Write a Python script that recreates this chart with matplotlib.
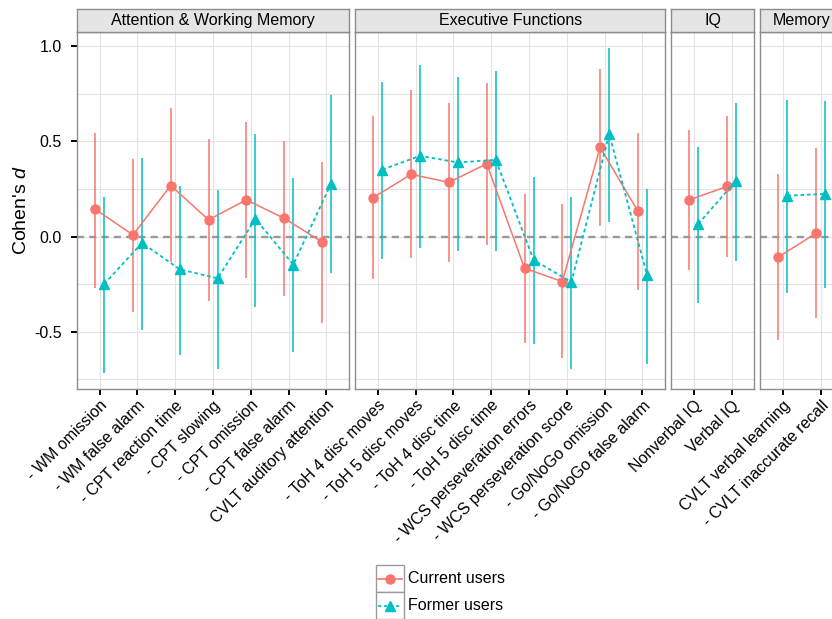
import pandas as pd
import matplotlib
matplotlib.use("Agg")
import matplotlib.pyplot as plt
from matplotlib.patches import Rectangle
from matplotlib.lines import Line2D

plt.rcParams['font.family'] = ['Liberation Sans', 'DejaVu Sans']
plt.rcParams['mathtext.fontset'] = 'custom'
plt.rcParams['mathtext.it'] = 'Liberation Sans:italic'
plt.rcParams['mathtext.rm'] = 'Liberation Sans'

# data
domain_order = ["Attention & Working Memory", "Executive Functions", "IQ", "Memory"]
domain = (["Attention & Working Memory"] * 7 + ["Executive Functions"] * 8
          + ["IQ"] * 2 + ["Memory"] * 2)
measures = ["- WM omission", "- WM false alarm", "- CPT reaction time", "- CPT slowing",
            "- CPT omission", "- CPT false alarm", "CVLT auditory attention",
            "- ToH 4 disc moves", "- ToH 5 disc moves", "- ToH 4 disc time", "- ToH 5 disc time",
            "- WCS perseveration errors", "- WCS perseveration score", "- Go/NoGo omission",
            "- Go/NoGo false alarm",
            "Nonverbal IQ", "Verbal IQ",
            "CVLT verbal learning", "- CVLT inaccurate recall"]
current_d = [0.144, 0.009, 0.268, 0.088, 0.193, 0.096, -0.028,
             0.205, 0.327, 0.285, 0.382, -0.166, -0.236, 0.469, 0.133,
             0.193, 0.263,
             -0.107, 0.018]
current_lo = [-0.268, -0.396, -0.135, -0.338, -0.217, -0.312, -0.454,
              -0.222, -0.112, -0.133, -0.046, -0.559, -0.637, 0.056, -0.280,
              -0.175, -0.109,
              -0.545, -0.427]
current_hi = [0.546, 0.405, 0.674, 0.511, 0.601, 0.504, 0.391,
              0.632, 0.769, 0.699, 0.806, 0.222, 0.170, 0.879, 0.543,
              0.559, 0.632,
              0.329, 0.464]
former_d = [-0.249, -0.033, -0.172, -0.219, 0.093, -0.147, 0.277,
            0.352, 0.424, 0.389, 0.403, -0.123, -0.238, 0.538, -0.200,
            0.067, 0.294,
            0.215, 0.224]
former_lo = [-0.715, -0.490, -0.622, -0.695, -0.368, -0.604, -0.191,
             -0.117, -0.061, -0.075, -0.075, -0.564, -0.695, 0.075, -0.669,
             -0.349, -0.128,
             -0.298, -0.268]
former_hi = [0.210, 0.412, 0.268, 0.243, 0.541, 0.305, 0.743,
             0.813, 0.900, 0.837, 0.869, 0.312, 0.207, 0.989, 0.252,
             0.471, 0.701,
             0.718, 0.711]

df = pd.DataFrame({"domain": domain, "measure": measures,
                   "cur": current_d, "cur_lo": current_lo, "cur_hi": current_hi,
                   "for": former_d, "for_lo": former_lo, "for_hi": former_hi})

RED = "#F8766D"
CYAN = "#00BFC4"
W, H = 832, 619


def fx(px):
    return px / W


def fy(py):
    return 1 - py / H


fig = plt.figure(figsize=(W / 100, H / 100), dpi=100)

unit = 37.8
left = 77
gap = 6
top, bottom = 32, 389
strip_top = 9
dodge = 0.12

for i, dom in enumerate(domain_order):
    sub = df[df["domain"] == dom].reset_index(drop=True)
    n = len(sub)
    width = (n + 0.2) * unit
    ax = fig.add_axes([fx(left), fy(bottom), width / W, (bottom - top) / H])
    x = list(range(1, n + 1))

    ax.axhline(0, color="#999999", lw=1.7, ls=(0, (3, 2.2)), zorder=2)
    ax.vlines([v - dodge for v in x], sub["cur_lo"], sub["cur_hi"], color=RED, lw=1.1, zorder=3)
    ax.vlines([v + dodge for v in x], sub["for_lo"], sub["for_hi"], color=CYAN, lw=1.1, zorder=3)
    ax.plot([v - dodge for v in x], sub["cur"], color=RED, lw=1.1, marker="o", ms=6.5,
            zorder=4)
    ax.plot([v + dodge for v in x], sub["for"], color=CYAN, lw=1.3, ls=(0, (2, 1.6)),
            marker="^", ms=6.5, zorder=4)

    ax.set_xlim(0.4, n + 0.6)
    ax.set_ylim(-0.8, 1.074)
    ax.set_xticks(x)
    ax.set_xticklabels(sub["measure"], rotation=45, ha="right", va="top",
                       rotation_mode="anchor", fontsize=11.5)
    ax.set_yticks([-0.5, 0.0, 0.5, 1.0])
    ax.set_yticks([-0.75, -0.25, 0.25, 0.75], minor=True)
    ax.grid(True, which="major", color="#E3E3E3", lw=0.8, zorder=0)
    ax.grid(True, which="minor", axis="y", color="#E3E3E3", lw=0.8, zorder=0)
    ax.set_axisbelow(True)
    ax.tick_params(axis="x", length=4.3, width=1.4, color="black", pad=2)
    ax.tick_params(axis="y", which="major", length=4.3, width=1.4, color="black",
                   pad=6.5, labelsize=11.5)
    ax.tick_params(axis="y", which="minor", length=0)
    if i == 0:
        ax.set_yticklabels(["-0.5", "0.0", "0.5", "1.0"])
    else:
        ax.tick_params(axis="y", which="major", length=0, labelleft=False)
    for s in ax.spines.values():
        s.set_color("#8C8C8C")
        s.set_linewidth(1.0)

    sax = fig.add_axes([fx(left), fy(top), width / W, (top - strip_top) / H])
    sax.set_facecolor("#E5E5E5")
    sax.set_xticks([])
    sax.set_yticks([])
    for s in sax.spines.values():
        s.set_color("#8C8C8C")
        s.set_linewidth(1.0)
    sax.text(0.5, 0.48, dom, ha="center", va="center", fontsize=11.5,
             transform=sax.transAxes)

    left += width + gap

fig.text(fx(22), fy(210), "Cohen's $d$", rotation=90, ha="center", va="center",
         fontsize=14)

# legend drawn as ggplot-style keys at the bottom
legend_items = [("Current users", RED, "o", "-"), ("Former users", CYAN, "^", (0, (2, 1.6)))]
for k, (label, col, mk, ls) in enumerate(legend_items):
    y0 = 565 + k * 27
    fig.add_artist(Rectangle((fx(376), fy(y0 + 27)), 28 / W, 27 / H, transform=fig.transFigure,
                             facecolor="white", edgecolor="#9A9A9A", lw=1.0))
    fig.add_artist(Line2D([fx(378), fx(402)], [fy(y0 + 13.5)] * 2, transform=fig.transFigure,
                          color=col, lw=1.2, ls=ls))
    fig.add_artist(Line2D([fx(390)], [fy(y0 + 13.5)], transform=fig.transFigure,
                          color=col, marker=mk, ms=6.5, lw=0))
    fig.text(fx(408), fy(y0 + 13.5), label, ha="left", va="center", fontsize=11.5)

fig.savefig("out.png", dpi=100)
